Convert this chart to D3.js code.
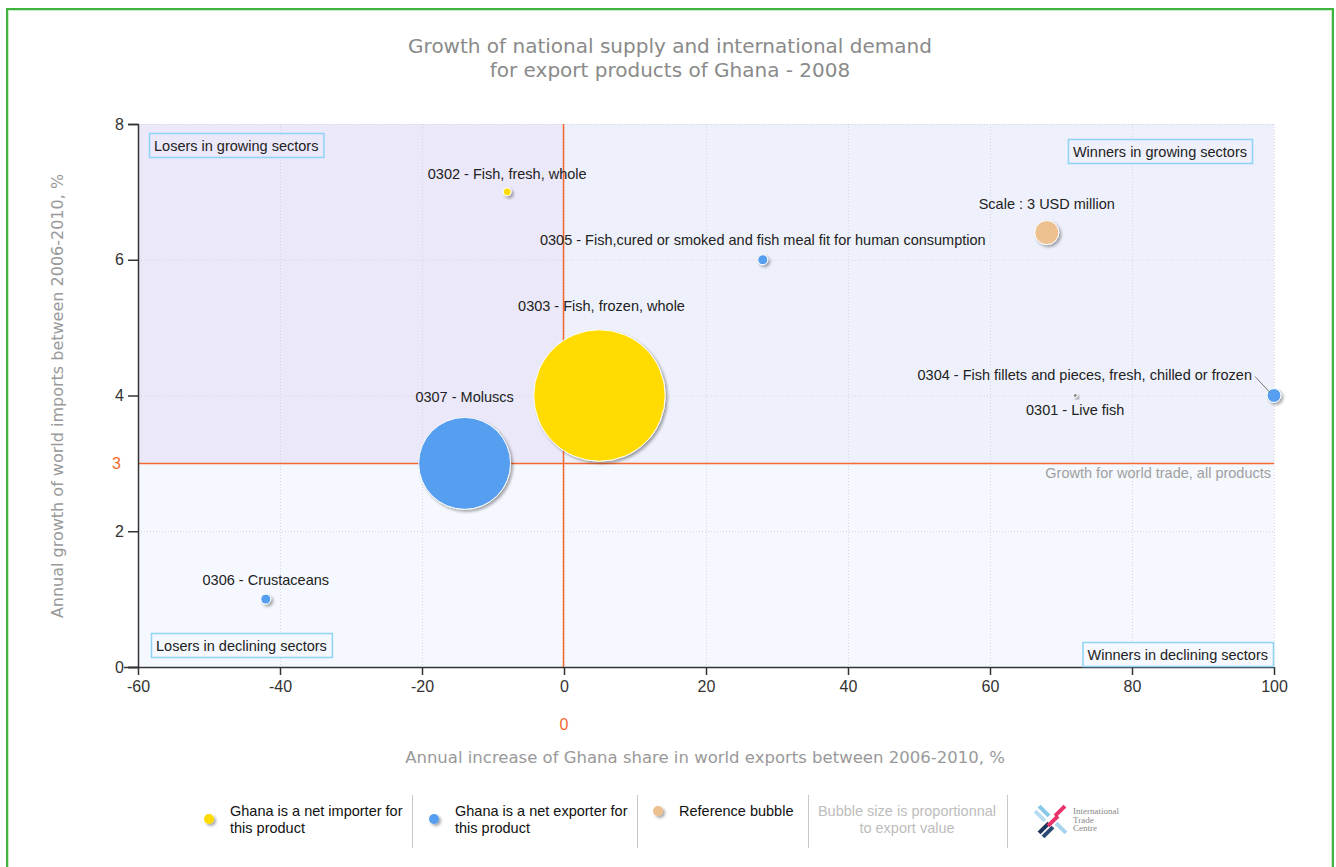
<!DOCTYPE html>
<html>
<head>
<meta charset="utf-8">
<script src="https://cdn.jsdelivr.net/npm/d3@7"></script>
<style>
  html, body { margin: 0; padding: 0; background: #fff; }
  svg { display: block; }
  .lbl { font-family: "Liberation Sans", Arial, sans-serif; font-size: 14.5px; fill: #222; }
  .tick text { font-family: "Liberation Sans", Arial, sans-serif; font-size: 16px; fill: #333; }
</style>
</head>
<body>
<svg id="chart" width="1336" height="867"></svg>
<script>
// Product groups (HS 4-digit) and their coordinates
const codes = ["0301", "0302", "0303", "0304", "0305", "0306", "0307"];
const names = [
  "Live fish",
  "Fish, fresh, whole",
  "Fish, frozen, whole",
  "Fish fillets and pieces, fresh, chilled or frozen",
  "Fish,cured or smoked and fish meal fit for human consumption",
  "Crustaceans",
  "Moluscs"
];
const shareGrowth = [72, -8, 5, 100, 28, -42, -14];      // x: annual increase of share, %
const importGrowth = [4, 7, 4, 4, 6, 1, 3];              // y: world import growth, %
const exportValue = [0.08, 0.33, 90, 1.0, 0.52, 0.52, 44]; // USD million
const netPosition = ["none", "importer", "importer", "exporter", "exporter", "exporter", "exporter"];

const refBubble = { label: "Scale : 3 USD million", value: 3, x: 68, y: 6.4 };
const worldGrowth = 3;
const xTicks = [-60, -40, -20, 0, 20, 40, 60, 80, 100];
const yTicks = [0, 2, 4, 6, 8];

const colors = { importer: "#ffdb00", exporter: "#559ef0", none: "#8a8a8a", reference: "#edc08f" };
const orange = "#f4692f";

const svg = d3.select("#chart");
const plot = { left: 138, right: 1274, top: 124, bottom: 667 };

const x = d3.scaleLinear().domain([-60, 100]).range([plot.left, plot.right]);
const y = d3.scaleLinear().domain([0, 8]).range([plot.bottom, plot.top]);
const r = d3.scaleSqrt().domain([0, refBubble.value]).range([0, 12]);

// drop shadow for bubbles
const defs = svg.append("defs");
const f = defs.append("filter").attr("id", "shadow").attr("x", "-50%").attr("y", "-50%").attr("width", "200%").attr("height", "200%");
f.append("feDropShadow").attr("dx", 2).attr("dy", 2).attr("stdDeviation", 1.6)
  .attr("flood-color", "#000").attr("flood-opacity", 0.35);

// outer frame
svg.append("rect").attr("x", 7).attr("y", 9).attr("width", 1326).attr("height", 870)
  .attr("fill", "none").attr("stroke", "#3fb53f").attr("stroke-width", 2);
svg.append("rect").attr("x", 8.5).attr("y", 10.5).attr("width", 1323).attr("height", 870)
  .attr("fill", "none").attr("stroke", "#c5ecc5").attr("stroke-width", 1);

// title
const title = svg.append("text").attr("x", 670).attr("text-anchor", "middle")
  .style("font-family", "DejaVu Sans, Verdana, sans-serif").style("font-size", "20px").attr("fill", "#8a8a8a");
title.append("tspan").attr("x", 670).attr("y", 53).text("Growth of national supply and international demand");
title.append("tspan").attr("x", 670).attr("y", 77).text("for export products of Ghana - 2008");

// quadrant backgrounds
svg.append("rect").attr("x", x(-60)).attr("y", y(8)).attr("width", x(0) - x(-60)).attr("height", y(worldGrowth) - y(8)).attr("fill", "#ebe8f9");
svg.append("rect").attr("x", x(0)).attr("y", y(8)).attr("width", x(100) - x(0)).attr("height", y(worldGrowth) - y(8)).attr("fill", "#eef1fb");
svg.append("rect").attr("x", x(-60)).attr("y", y(worldGrowth)).attr("width", x(100) - x(-60)).attr("height", y(0) - y(worldGrowth)).attr("fill", "#f5f8fe");

// dotted grid
const grid = svg.append("g").attr("stroke", "#d6d6de").attr("stroke-dasharray", "1,2").attr("stroke-width", 1);
grid.selectAll("line.v").data(xTicks.filter(d => d !== -60)).join("line")
  .attr("x1", d => x(d) + 0.5).attr("x2", d => x(d) + 0.5).attr("y1", y(8)).attr("y2", y(0));
grid.selectAll("line.h").data(yTicks.filter(d => d !== 0)).join("line")
  .attr("y1", d => y(d) + 0.5).attr("y2", d => y(d) + 0.5).attr("x1", x(-60)).attr("x2", x(100));

// reference lines: x = 0 and world growth
svg.append("line").attr("x1", x(0) - 0.5).attr("x2", x(0) - 0.5).attr("y1", y(8)).attr("y2", y(0))
  .attr("stroke", orange).attr("stroke-width", 1.5);
svg.append("line").attr("x1", x(-60)).attr("x2", x(100)).attr("y1", y(worldGrowth)).attr("y2", y(worldGrowth))
  .attr("stroke", orange).attr("stroke-width", 1.5);
svg.append("text").attr("x", x(100) - 3).attr("y", y(worldGrowth) + 15).attr("text-anchor", "end")
  .attr("class", "lbl").style("fill", "#a0a0a0").text("Growth for world trade, all products");

// axes
const yAxis = svg.append("g").attr("transform", `translate(${plot.left},0)`)
  .call(d3.axisLeft(y).tickValues(yTicks).tickSize(10).tickPadding(4).tickFormat(d => String(d)));
const xAxis = svg.append("g").attr("transform", `translate(0,${plot.bottom})`)
  .call(d3.axisBottom(x).tickValues(xTicks).tickSize(8).tickPadding(6).tickFormat(d => String(d)));
[yAxis, xAxis].forEach(a => {
  a.select(".domain").attr("stroke", "#333").attr("stroke-width", 1.5);
  a.selectAll(".tick line").attr("stroke", "#333").attr("stroke-width", 1.5);
});
xAxis.select(".domain").remove();
xAxis.append("line").attr("x1", plot.left - 14).attr("x2", plot.right).attr("y1", 0.5).attr("y2", 0.5)
  .attr("stroke", "#333").attr("stroke-width", 1.5);

// orange markers on the axes
svg.append("text").attr("x", plot.left - 17).attr("y", y(worldGrowth)).attr("dy", "0.35em").attr("text-anchor", "end")
  .style("font-family", "Liberation Sans, Arial, sans-serif").style("font-size", "16px").attr("fill", orange).text(worldGrowth);
svg.append("text").attr("x", x(0)).attr("y", 730).attr("text-anchor", "middle")
  .style("font-family", "Liberation Sans, Arial, sans-serif").style("font-size", "16px").attr("fill", orange).text("0");

// axis titles
const axisTitleStyle = s => s.style("font-family", "DejaVu Sans, Verdana, sans-serif").style("font-size", "16px").attr("fill", "#999");
svg.append("text").attr("transform", `translate(63,${396}) rotate(-90)`).attr("text-anchor", "middle")
  .call(axisTitleStyle).text("Annual growth of world imports between 2006-2010, %");
svg.append("text").attr("x", 705).attr("y", 763).attr("text-anchor", "middle")
  .call(axisTitleStyle).style("font-size", "16.5px").text("Annual increase of Ghana share in world exports between 2006-2010, %");

// quadrant labels
const quadrants = [
  { text: "Losers in growing sectors", qx: -60, qy: 8, anchor: "start", dx: 11, dy: 9 },
  { text: "Winners in growing sectors", qx: 100, qy: 8, anchor: "end", dx: -22, dy: 15 },
  { text: "Losers in declining sectors", qx: -60, qy: 0, anchor: "start", dx: 13, dy: -34 },
  { text: "Winners in declining sectors", qx: 100, qy: 0, anchor: "end", dx: -1, dy: -25 }
];
quadrants.forEach(q => {
  const g = svg.append("g");
  const t = g.append("text").attr("class", "lbl").attr("y", 0).attr("dy", "0.35em").text(q.text);
  const w = t.node().getComputedTextLength() + 10, h = 24;
  const bx = q.anchor === "start" ? x(q.qx) + q.dx : x(q.qx) + q.dx - w;
  const by = y(q.qy) + q.dy;
  g.insert("rect", "text").attr("x", bx + 0.5).attr("y", by + 0.5).attr("width", w).attr("height", h)
    .attr("fill", q.qy === 0 ? "#f5f8fe" : (q.qx < 0 ? "#ebe8f9" : "#eef1fb"))
    .attr("stroke", "#8fd3f6").attr("stroke-width", 1.5);
  t.attr("x", bx + 5).attr("y", by + h / 2 + 1);
});

// product bubbles
const products = codes.map((c, i) => ({
  code: c, name: names[i], sx: shareGrowth[i], iy: importGrowth[i], v: exportValue[i], pos: netPosition[i]
}));
const labelPlacement = {
  "0301": { dx: 0, dy: 14, anchor: "middle" },
  "0302": { dx: 0, dy: -18, anchor: "middle" },
  "0303": { dx: 2, dy: -90, anchor: "middle" },
  "0304": { dx: -22, dy: -21, anchor: "end", leader: true },
  "0305": { dx: 0, dy: -20, anchor: "middle" },
  "0306": { dx: 0, dy: -19, anchor: "middle" },
  "0307": { dx: 0, dy: -66, anchor: "middle" }
};

const bubbles = svg.append("g");
bubbles.selectAll("circle").data([...products].sort((a, b) => b.v - a.v)).join("circle")
  .attr("cx", d => x(d.sx)).attr("cy", d => y(d.iy)).attr("r", d => Math.max(2, r(d.v)))
  .attr("fill", d => colors[d.pos]).attr("stroke", "#fff").attr("stroke-width", 1)
  .attr("filter", "url(#shadow)");

// reference bubble
bubbles.append("circle").attr("cx", x(refBubble.x)).attr("cy", y(refBubble.y)).attr("r", r(refBubble.value))
  .attr("fill", colors.reference).attr("stroke", "#fff").attr("stroke-width", 1).attr("filter", "url(#shadow)");
svg.append("text").attr("class", "lbl").attr("x", x(refBubble.x)).attr("y", y(refBubble.y) - 29).attr("dy", "0.35em")
  .attr("text-anchor", "middle").text(refBubble.label);

// bubble labels
products.forEach(p => {
  const lp = labelPlacement[p.code];
  const cx = x(p.sx), cy = y(p.iy);
  if (lp.leader) {
    svg.append("line").attr("x1", cx + lp.dx + 3).attr("y1", cy + lp.dy + 2).attr("x2", cx - 4).attr("y2", cy - 3)
      .attr("stroke", "#777").attr("stroke-width", 1);
  }
  svg.append("text").attr("class", "lbl").attr("x", cx + lp.dx).attr("y", cy + lp.dy).attr("dy", "0.35em")
    .attr("text-anchor", lp.anchor).text(`${p.code} - ${p.name}`);
});

// legend
const legend = svg.append("g").attr("class", "legend");
const legendItems = [
  { color: colors.importer, lines: ["Ghana is a net importer for", "this product"], x: 209, cy: 819 },
  { color: colors.exporter, lines: ["Ghana is a net exporter for", "this product"], x: 434, cy: 819 },
  { color: colors.reference, lines: ["Reference bubble"], x: 658, cy: 811 }
];
legendItems.forEach(it => {
  legend.append("circle").attr("cx", it.x).attr("cy", it.cy).attr("r", 5).attr("fill", it.color)
    .attr("filter", "url(#shadow)");
  const t = legend.append("text").attr("class", "lbl").style("fill", "#111");
  it.lines.forEach((ln, i) => t.append("tspan").attr("x", it.x + 21).attr("y", 816 + i * 17).text(ln));
});
const note = legend.append("text").attr("class", "lbl").attr("text-anchor", "middle").style("fill", "#bdbdbd");
["Bubble size is proportionnal", "to export value"].forEach((ln, i) =>
  note.append("tspan").attr("x", 907).attr("y", 816 + i * 17).text(ln));
[412, 637, 808, 1007].forEach(sx =>
  legend.append("line").attr("x1", sx + 0.5).attr("x2", sx + 0.5).attr("y1", 795).attr("y2", 848)
    .attr("stroke", "#c8c8c8").attr("stroke-width", 1));

// organisation logo
const logo = legend.append("g").attr("transform", "translate(1052,820)");
const bars = [
  { dx: -8, dy: -9, rot: 45, c: "#8ac8ea" },
  { dx: -12, dy: -4, rot: 45, c: "#b9dcf0" },
  { dx: 8, dy: -9, rot: -45, c: "#e8336b" },
  { dx: -8, dy: 8, rot: -45, c: "#1d3557" },
  { dx: -4, dy: 12, rot: -45, c: "#2b4a73" },
  { dx: 9, dy: 8, rot: 45, c: "#a8d4ee" },
  { dx: 1, dy: 1, rot: -45, c: "#e8336b" }
];
bars.forEach(b => logo.append("rect").attr("x", -7).attr("y", -2).attr("width", 14).attr("height", 4)
  .attr("fill", b.c).attr("transform", `translate(${b.dx},${b.dy}) rotate(${b.rot})`));
const lt = legend.append("text").style("font-family", "Liberation Serif, serif").style("font-size", "9px").attr("fill", "#888");
["International", "Trade", "Centre"].forEach((ln, i) => lt.append("tspan").attr("x", 1073).attr("y", 814 + i * 8.5).text(ln));
</script>
</body>
</html>
